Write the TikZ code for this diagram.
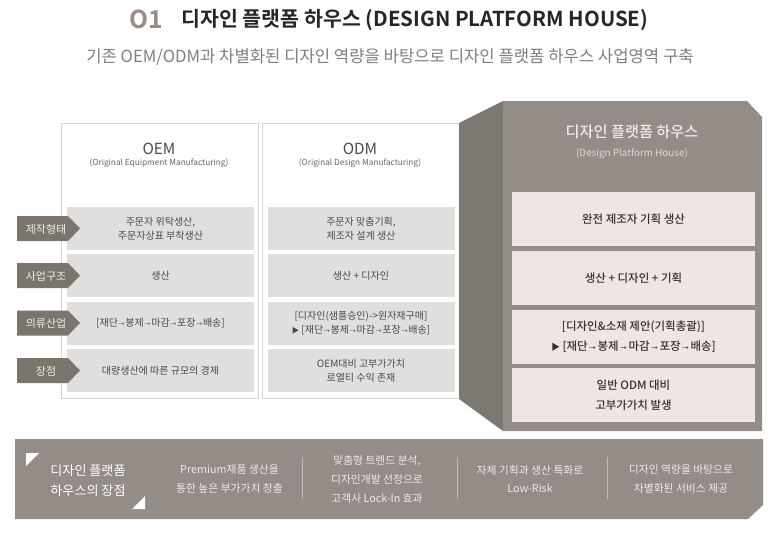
\documentclass[tikz,border=0pt]{standalone}
\usepackage{fontspec}
\setmainfont{Noto Sans CJK KR}
\newfontfamily\bdf{Noto Sans CJK KR Bold}
\newfontfamily\mdf{Noto Sans CJK KR Medium}
\newcommand{\ar}{\hspace{0.55pt}{\fontsize{4.5}{5}\selectfont →}\hspace{0.55pt}}
\newcommand{\arb}{\hspace{1.3pt}{\fontsize{4.8}{5}\selectfont →}\hspace{1.3pt}}
\definecolor{sidedark}{HTML}{7C7972}
\definecolor{front}{HTML}{938C87}
\definecolor{pale}{HTML}{EFE5E2}
\definecolor{rowgray}{HTML}{E0DFDD}
\definecolor{edge}{HTML}{D6D5D1}
\definecolor{tag}{HTML}{7A766E}
\definecolor{ink}{HTML}{4A4A48}
\definecolor{mid}{HTML}{7F7F7D}
\definecolor{acc}{HTML}{9C8A84}
\definecolor{lite}{HTML}{EFEBE8}
\tikzset{
  every node/.style={inner sep=0pt,align=center,text=ink},
  panelbox/.style={draw=edge,line width=0.9pt,fill=white,minimum width=197*0.75pt,minimum height=275*0.75pt},
  rowa/.style={fill=rowgray,minimum width=187*0.75pt,minimum height=43*0.75pt,font=\fontsize{7.5}{10.8}\selectfont},
  rowb/.style={fill=pale,minimum width=243*0.75pt,minimum height=54*0.75pt,text=black!80,font=\fontsize{8.6}{15}\mdf},
  taglabel/.style={text=lite,font=\fontsize{8.2}{10}\selectfont},
  bandtext/.style={text=lite,font=\fontsize{8.1}{14}\selectfont},
  sepline/.style={draw=front!60!white,line width=0.75pt},
}
\begin{document}
\begin{tikzpicture}[x=0.75pt,y=-0.75pt]
\useasboundingbox (0,0) rectangle (773,533);
\fill[white] (0,0) rectangle (773,533);
% header
\node[text=acc,font=\fontsize{18.5}{20}\bdf] (num) at (146.5,19) {O1};
\node[text=black!85,font=\fontsize{15.4}{18}\bdf] (title) at (415,20) {디자인 플랫폼 하우스 (DESIGN PLATFORM HOUSE)};
\node[text=mid,font=\fontsize{12.5}{15}\selectfont] (sub) at (390,57) {기존 OEM/ODM과 차별화된 디자인 역량을 바탕으로 디자인 플랫폼 하우스 사업영역 구축};
% panels
\node[panelbox] (oem) at (160,261) {};
\node[panelbox] (odm) at (361,261) {};
\node[font=\fontsize{11.5}{14}\selectfont] (oemt) at (159,149) {OEM};
\node[font=\fontsize{6.2}{8}\selectfont,text=mid!80!black] (oems) at (159,163.5) {(Original Equipment Manufacturing)};
\node[font=\fontsize{11.5}{14}\selectfont] (odmt) at (360,149) {ODM};
\node[font=\fontsize{6.2}{8}\selectfont,text=mid!80!black] (odms) at (360,163.5) {(Original Design Manufacturing)};
% OEM rows
\node[rowa] (a1) at (160.5,228.5) {주문자 위탁생산,\\주문자상표 부착생산};
\node[rowa] (a2) at (160.5,275.5) {생산};
\node[rowa] (a3) at (160.5,323.5) {[재단\ar 봉제\ar 마감\ar 포장\ar 배송]};
\node[rowa] (a4) at (160.5,370.5) {대량생산에 따른 규모의 경제};
% ODM rows
\node[rowa] (b1) at (361,228.5) {주문자 맞춤기획,\\제조자 설계 생산};
\node[rowa] (b2) at (361,275.5) {생산 + 디자인};
\node[rowa] (b3) at (361,323.5) {[디자인(샘플승인)->원자재구매]\\{\fontsize{5.5}{6}\selectfont ▶} [재단\ar 봉제\ar 마감\ar 포장\ar 배송]};
\node[rowa] (b4) at (361,370.5) {OEM대비 고부가가치\\로열티 수익 존재};
% tags
\foreach \n/\yy/\t in {t1/228.5/제작형태,t2/275.5/사업구조,t3/323/의류산업,t4/370.5/장점}{
  \fill[tag] (17,\yy-12.5) -- (68,\yy-12.5) -- (80,\yy) -- (68,\yy+12.5) -- (17,\yy+12.5) -- cycle;
  \node[taglabel] (\n) at (46,\yy+0.8) {\t};
}
% house
\fill[sidedark] (459,123) -- (503,101) -- (503,431) -- (459,399) -- cycle;
\fill[front] (503,101) -- (747,101) -- (762,117) -- (762,431) -- (503,431) -- cycle;
\node[text=lite,font=\fontsize{11.4}{13}\mdf] (ht) at (632,132) {디자인 플랫폼 하우스};
\node[text=pale!85!front,font=\fontsize{7.4}{9}\selectfont] (hs) at (632,153.5) {(Design Platform House)};
\node[rowb] (c1) at (633.5,219) {완전 제조자 기획 생산};
\node[rowb] (c2) at (633.5,278) {생산 + 디자인 + 기획};
\node[rowb] (c3) at (633.5,336.5) {[디자인\&소재 제안(기획총괄)]\\{\fontsize{6.5}{6}\selectfont ▶} [재단\arb 봉제\arb 마감\arb 포장\arb 배송]};
\node[rowb] (c4) at (633.5,395) {일반 ODM 대비\\고부가가치 발생};
% band
\fill[front] (15,439) -- (763,439) -- (763,505) -- (748,519) -- (15,519) -- cycle;
\fill[white] (26,453) -- (39,453) -- (26,466) -- cycle;
\fill[white] (145,496) -- (145,509) -- (132,509) -- cycle;
\node[text=white,font=\fontsize{9.8}{15}\selectfont] (d0) at (88,481) {디자인 플랫폼\\하우스의 장점};
\node[bandtext] (d1) at (229.5,479) {Premium제품 생산을\\통한 높은 부가가치 창출};
\node[bandtext] (d2) at (377,479.5) {맞춤형 트렌드 분석,\\디자인개발 선정으로\\고객사 Lock-In 효과};
\node[bandtext] (d3) at (530,479) {자체 기획과 생산 특화로\\Low-Risk};
\node[bandtext] (d4) at (681,479) {디자인 역량을 바탕으로\\차별화된 서비스 제공};
\coordinate (s1a) at (302,457); \coordinate (s1b) at (302,499);
\coordinate (s2a) at (457,457); \coordinate (s2b) at (457,499);
\coordinate (s3a) at (607,457); \coordinate (s3b) at (607,499);
\draw[sepline] (s1a) -- (s1b);
\draw[sepline] (s2a) -- (s2b);
\draw[sepline] (s3a) -- (s3b);
\end{tikzpicture}
\end{document}
